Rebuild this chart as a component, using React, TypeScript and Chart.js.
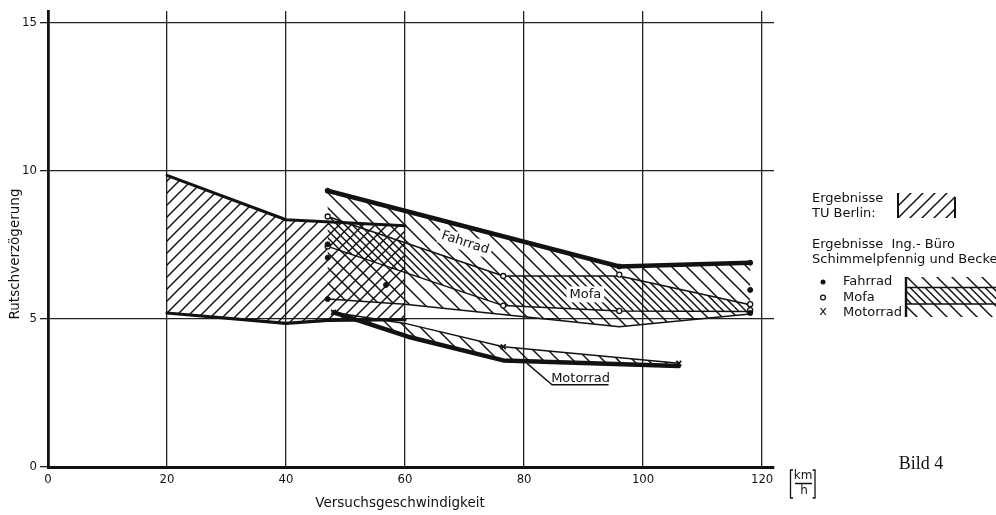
import React, { useEffect, useRef } from "react";
import { Chart, registerables } from "chart.js";

Chart.register(...registerables);

const INK = "#121212";
const TEXT_FONT = '"DejaVu Sans", "Liberation Sans", sans-serif';
const TICK_FONT = '"Liberation Sans Narrow", "DejaVu Sans Condensed", "DejaVu Sans", sans-serif';

// ---- axes ----
const xTickValues = [0, 20, 40, 60, 80, 100, 120];
const yTickValues = [0, 5, 10, 15];

// ---- TU Berlin envelope ----
const tuUpperX = [20, 40, 60];
const tuUpperY = [9.85, 8.35, 8.15];
const tuLowerX = [20, 40, 47, 60];
const tuLowerY = [5.2, 4.85, 4.95, 4.98];

// ---- Ing.-Büro: Fahrrad envelope ----
const fahrradUpperX = [47, 96, 118];
const fahrradUpperY = [9.33, 6.77, 6.9];
const fahrradLowerX = [47, 60, 96, 118];
const fahrradLowerY = [5.67, 5.5, 4.74, 5.17];

// ---- Ing.-Büro: Mofa band ----
const mofaUpperX = [47, 76.5, 96, 118];
const mofaUpperY = [8.46, 6.45, 6.45, 5.48];
const mofaLowerX = [47, 76.5, 96, 118];
const mofaLowerY = [7.45, 5.45, 5.27, 5.25];

// ---- Ing.-Büro: Motorrad band ----
const motorradUpperX = [48, 60, 76.5, 106];
const motorradUpperY = [5.22, 4.85, 4.06, 3.5];
const motorradLowerX = [48, 60.5, 76.5, 106];
const motorradLowerY = [5.22, 4.4, 3.6, 3.41];

// ---- measured points ----
const fahrradPtsX = [47, 47, 47, 47, 56.8, 96, 118, 118, 118];
const fahrradPtsY = [9.33, 7.52, 7.07, 5.67, 6.15, 6.77, 6.9, 5.98, 5.2];
const mofaPtsX = [47, 47, 76.5, 76.5, 96, 96, 118, 118];
const mofaPtsY = [8.46, 7.45, 6.45, 5.45, 6.5, 5.27, 5.5, 5.3];
const motorradPtsX = [48, 76.5, 106];
const motorradPtsY = [5.22, 4.06, 3.5];

// ---- in-chart labels (data coordinates) ----
const labelNames = ["Fahrrad", "Mofa", "Motorrad"];
const labelX = [70.1, 90.3, 89.5];
const labelY = [7.57, 5.83, 3.0];

function pts(xs: number[], ys: number[]) {
  return xs.map((x, i) => ({ x, y: ys[i] }));
}
function polygon(ux: number[], uy: number[], lx: number[], ly: number[]) {
  return [...pts(ux, uy), ...pts(lx, ly).reverse()];
}

function makeHatch(spacing: number, dir: 1 | -1, offset: number, width: number) {
  const c = document.createElement("canvas");
  c.width = spacing;
  c.height = spacing;
  const g = c.getContext("2d")!;
  g.strokeStyle = INK;
  g.lineWidth = width;
  g.lineCap = "butt";
  for (let k = -2; k <= 2; k++) {
    const x0 = k * spacing + offset;
    g.beginPath();
    if (dir === 1) {
      g.moveTo(x0 - spacing, -spacing);
      g.lineTo(x0 + 2 * spacing, 2 * spacing);
    } else {
      g.moveTo(x0 - spacing, 2 * spacing);
      g.lineTo(x0 + 2 * spacing, -spacing);
    }
    g.stroke();
  }
  return g.createPattern(c, "repeat")!;
}

export default function App() {
  const ref = useRef<HTMLCanvasElement | null>(null);

  useEffect(() => {
    const canvas = ref.current!;
    const tuHatch = makeHatch(12, -1, 0, 1.5);
    const fahrradHatch = makeHatch(15, 1, 0, 1.5);
    const mofaHatch = makeHatch(15, 1, 7.5, 1.5);
    const motorradHatch = makeHatch(15, 1, 3, 1.5);

    const area = (data: any[], pattern: CanvasPattern) => ({
      data,
      fill: "shape",
      backgroundColor: pattern,
      borderColor: "rgba(0,0,0,0)",
      borderWidth: 0,
      pointRadius: 0,
      showLine: true,
      tension: 0,
    });
    const edge = (data: any[], width: number) => ({
      data,
      fill: false,
      borderColor: INK,
      borderWidth: width,
      borderCapStyle: "round",
      borderJoinStyle: "round",
      pointRadius: 0,
      tension: 0,
    });
    const marks = (data: any[], style: string, radius: number, bg: string, bw: number) => ({
      data,
      showLine: false,
      fill: false,
      pointStyle: style,
      pointRadius: radius,
      pointBackgroundColor: bg,
      pointBorderColor: INK,
      pointBorderWidth: bw,
      borderColor: INK,
      backgroundColor: bg,
    });

    const datasets: any[] = [
      marks(pts(fahrradPtsX, fahrradPtsY), "circle", 2.5, INK, 1),
      marks(pts(mofaPtsX, mofaPtsY), "circle", 2.5, "#ffffff", 1.3),
      marks(pts(motorradPtsX, motorradPtsY), "crossRot", 3.5, INK, 1.7),
      edge(pts(tuUpperX, tuUpperY), 3),
      edge(pts(tuLowerX, tuLowerY), 3.2),
      edge(pts(fahrradUpperX, fahrradUpperY), 4.5),
      edge(pts(fahrradLowerX, fahrradLowerY), 1.5),
      edge(pts(mofaUpperX, mofaUpperY), 1.5),
      edge(pts(mofaLowerX, mofaLowerY), 1.5),
      edge(pts(motorradUpperX, motorradUpperY), 1.5),
      edge(pts(motorradLowerX, motorradLowerY), 4.5),
      area(polygon(motorradUpperX, motorradUpperY, motorradLowerX, motorradLowerY), motorradHatch),
      area(polygon(mofaUpperX, mofaUpperY, mofaLowerX, mofaLowerY), mofaHatch),
      area(polygon(fahrradUpperX, fahrradUpperY, fahrradLowerX, fahrradLowerY), fahrradHatch),
      area(polygon(tuUpperX, tuUpperY, tuLowerX, tuLowerY), tuHatch),
    ];

    const overlay = {
      id: "overlay",
      afterDatasetsDraw(chart: any) {
        const ctx: CanvasRenderingContext2D = chart.ctx;
        const xs = chart.scales.x;
        const ys = chart.scales.y;
        ctx.save();
        ctx.font = `13px ${TEXT_FONT}`;
        ctx.textAlign = "center";
        ctx.textBaseline = "middle";
        labelNames.forEach((name, i) => {
          const px = xs.getPixelForValue(labelX[i]);
          const py = ys.getPixelForValue(labelY[i]);
          const w = ctx.measureText(name).width;
          ctx.save();
          ctx.translate(px, py);
          if (i === 0) ctx.rotate((18 * Math.PI) / 180);
          if (i < 2) {
            ctx.fillStyle = "#ffffff";
            ctx.fillRect(-w / 2 - 3, -8, w + 6, 16);
          }
          ctx.fillStyle = INK;
          ctx.fillText(name, 0, 0);
          ctx.restore();
        });
        // leader + underline for Motorrad
        ctx.strokeStyle = INK;
        ctx.lineWidth = 1.4;
        ctx.beginPath();
        ctx.moveTo(xs.getPixelForValue(80.5), ys.getPixelForValue(3.5));
        ctx.lineTo(xs.getPixelForValue(84.7), ys.getPixelForValue(2.78));
        ctx.lineTo(xs.getPixelForValue(94.2), ys.getPixelForValue(2.78));
        ctx.stroke();
        ctx.restore();
      },
      afterDraw(chart: any) {
        const ctx: CanvasRenderingContext2D = chart.ctx;
        ctx.save();
        ctx.fillStyle = INK;
        ctx.strokeStyle = INK;
        // axis titles
        ctx.font = `13.5px ${TEXT_FONT}`;
        ctx.textAlign = "center";
        ctx.textBaseline = "middle";
        ctx.fillText("Versuchsgeschwindigkeit", 400, 503);
        ctx.save();
        ctx.translate(15, 254);
        ctx.rotate(-Math.PI / 2);
        ctx.fillText("Rutschverzögerung", 0, 0);
        ctx.restore();

        // unit [km/h]
        ctx.font = `12px ${TEXT_FONT}`;
        ctx.fillText("km", 803, 476);
        ctx.fillText("h", 804, 491);
        ctx.lineWidth = 1.3;
        ctx.beginPath();
        ctx.moveTo(795, 483.5);
        ctx.lineTo(812, 483.5);
        ctx.moveTo(793, 470);
        ctx.lineTo(790.5, 470);
        ctx.lineTo(790.5, 498);
        ctx.lineTo(793, 498);
        ctx.moveTo(812.5, 470);
        ctx.lineTo(815, 470);
        ctx.lineTo(815, 498);
        ctx.lineTo(812.5, 498);
        ctx.stroke();

        // Bild 4
        ctx.font = `18px "Liberation Serif", "DejaVu Serif", serif`;
        ctx.fillText("Bild 4", 921, 464);

        // legend
        ctx.font = `13px ${TEXT_FONT}`;
        ctx.textAlign = "left";
        ctx.fillText("Ergebnisse", 812, 199);
        ctx.fillText("TU Berlin:", 812, 214);
        ctx.save();
        ctx.fillStyle = tuHatch;
        ctx.fillRect(898, 193, 57, 25);
        ctx.restore();
        ctx.lineWidth = 2;
        ctx.beginPath();
        ctx.moveTo(898, 193);
        ctx.lineTo(898, 218);
        ctx.moveTo(955, 197);
        ctx.lineTo(955, 218);
        ctx.stroke();

        ctx.fillText("Ergebnisse  Ing.- Büro", 812, 245);
        ctx.fillText("Schimmelpfennig und Becker", 812, 260);
        ctx.beginPath();
        ctx.arc(823, 282, 2.5, 0, Math.PI * 2);
        ctx.fill();
        ctx.lineWidth = 1.3;
        ctx.beginPath();
        ctx.arc(823, 297.5, 2.4, 0, Math.PI * 2);
        ctx.stroke();
        ctx.textAlign = "center";
        ctx.fillText("x", 823, 312);
        ctx.textAlign = "left";
        ctx.fillText("Fahrrad", 843, 282);
        ctx.fillText("Mofa", 843, 297.5);
        ctx.fillText("Motorrad", 843, 312.5);

        ctx.save();
        ctx.fillStyle = fahrradHatch;
        ctx.fillRect(906, 277, 90, 40);
        ctx.fillStyle = mofaHatch;
        ctx.fillRect(906, 287.5, 90, 16.5);
        ctx.restore();
        ctx.lineWidth = 1.4;
        ctx.beginPath();
        ctx.moveTo(906, 287.5);
        ctx.lineTo(996, 287.5);
        ctx.moveTo(906, 304);
        ctx.lineTo(996, 304);
        ctx.stroke();
        ctx.lineWidth = 2.4;
        ctx.beginPath();
        ctx.moveTo(906, 277);
        ctx.lineTo(906, 317);
        ctx.stroke();
        ctx.restore();
      },
    };

    const chart = new Chart(canvas, {
      type: "line",
      data: { datasets },
      options: {
        animation: false,
        responsive: false,
        maintainAspectRatio: false,
        devicePixelRatio: 1,
        layout: { padding: { left: 0, top: 11, right: 222, bottom: 0 } },
        plugins: {
          legend: { display: false },
          tooltip: { enabled: false },
          title: { display: false },
        },
        scales: {
          x: {
            type: "linear",
            min: 0,
            max: 122,
            afterBuildTicks: (s: any) => {
              s.ticks = xTickValues.map((v) => ({ value: v }));
            },
            afterFit: (s: any) => {
              s.height = 48;
            },
            grid: { color: "#222222", lineWidth: 1.3, drawTicks: false },
            border: { color: INK, width: 3 },
            ticks: {
              padding: 5,
              color: INK,
              maxRotation: 0,
              autoSkip: false,
              font: { family: TICK_FONT, size: 13 },
            },
          },
          y: {
            type: "linear",
            min: 0,
            max: 15.4,
            afterBuildTicks: (s: any) => {
              s.ticks = yTickValues.map((v) => ({ value: v }));
            },
            afterFit: (s: any) => {
              s.width = 48;
            },
            grid: { color: "#222222", lineWidth: 1.3, tickLength: 8 },
            border: { color: INK, width: 2.8 },
            ticks: {
              padding: 3,
              color: INK,
              font: { family: TICK_FONT, size: 13 },
            },
          },
        },
      } as any,
      plugins: [overlay],
    });

    return () => chart.destroy();
  }, []);

  return (
    <div style={{ position: "absolute", left: 0, top: 0, width: 996, height: 515, background: "#fff" }}>
      <canvas ref={ref} width={996} height={515} style={{ display: "block" }} />
    </div>
  );
}
